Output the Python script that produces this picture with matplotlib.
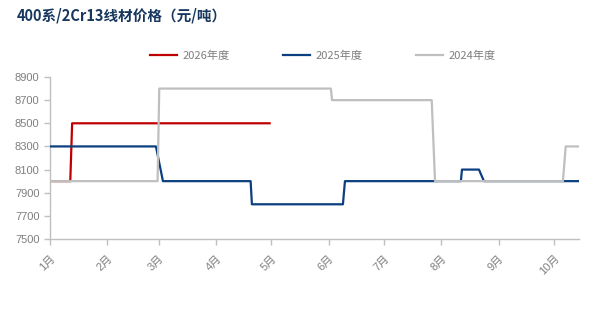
import matplotlib.pyplot as plt

plt.rcParams['font.family'] = ['Noto Sans CJK SC', 'DejaVu Sans']

# 横轴用一年中的第几天（1月1日 = 0）
days_2026 = [0, 11, 12, 119]
price_2026 = [8000, 8000, 8500, 8500]

days_2025 = [0, 57.4, 61.2, 108.7, 109.4, 158.7, 159.8, 222.6, 223.2, 232.4, 235.1, 286.6]
price_2025 = [8300, 8300, 8000, 8000, 7800, 7800, 8000, 8000, 8100, 8100, 8000, 8000]

days_2024 = [0, 58.3, 59.2, 152.2, 152.8, 206.8, 208.6, 277.9, 279.4, 286.6]
price_2024 = [8000, 8000, 8800, 8800, 8700, 8700, 8000, 8000, 8300, 8300]

month_starts = [0, 31, 59, 90, 120, 151, 181, 212, 243, 273]
month_labels = ["1月", "2月", "3月", "4月", "5月", "6月", "7月", "8月", "9月", "10月"]
y_ticks = [7500, 7700, 7900, 8100, 8300, 8500, 8700, 8900]

fig = plt.figure(figsize=(6, 3.13), dpi=100)
ax = fig.add_axes([0.0833, 0.2364, 0.8817, 0.5176])

# 2024 画在最上层（原图里灰线盖住了红线和蓝线）
ax.plot(days_2026, price_2026, color="#C00000", lw=1.6, label="2026年度", zorder=2)
ax.plot(days_2025, price_2025, color="#0B3F7F", lw=1.6, label="2025年度", zorder=3)
ax.plot(days_2024, price_2024, color="#BFBFBF", lw=1.6, label="2024年度", zorder=4)

ax.set_xlim(0, 286.6)
ax.set_ylim(7500, 8900)
ax.set_yticks(y_ticks)
ax.set_xticks(month_starts)
ax.set_xticklabels(month_labels, rotation=45, ha="right", rotation_mode="anchor")

for s in ["top", "right"]:
    ax.spines[s].set_visible(False)
for s in ["left", "bottom"]:
    ax.spines[s].set_color("#BFBFBF")
    ax.spines[s].set_linewidth(1)
ax.tick_params(axis="both", colors="#BFBFBF", length=4, width=1, labelsize=8, labelcolor="#7F7F7F")
ax.tick_params(axis="x", pad=6)
for lab in ax.get_xticklabels() + ax.get_yticklabels():
    lab.set_family(['Liberation Sans', 'Noto Sans CJK SC'])

handles, labels = ax.get_legend_handles_labels()
fig.legend(handles, labels,
           loc="center", bbox_to_anchor=(0.538, 0.822), ncol=3, frameon=False,
           fontsize=8, handlelength=2.43, columnspacing=4.86, handletextpad=0.45,
           labelcolor="#7F7F7F")

fig.text(0.028, 0.952, "400系/2Cr13线材价格（元/吨）", fontsize=10.5, fontweight="bold",
         color="#17375E", ha="left", va="center")

fig.savefig("out.png", dpi=100)
